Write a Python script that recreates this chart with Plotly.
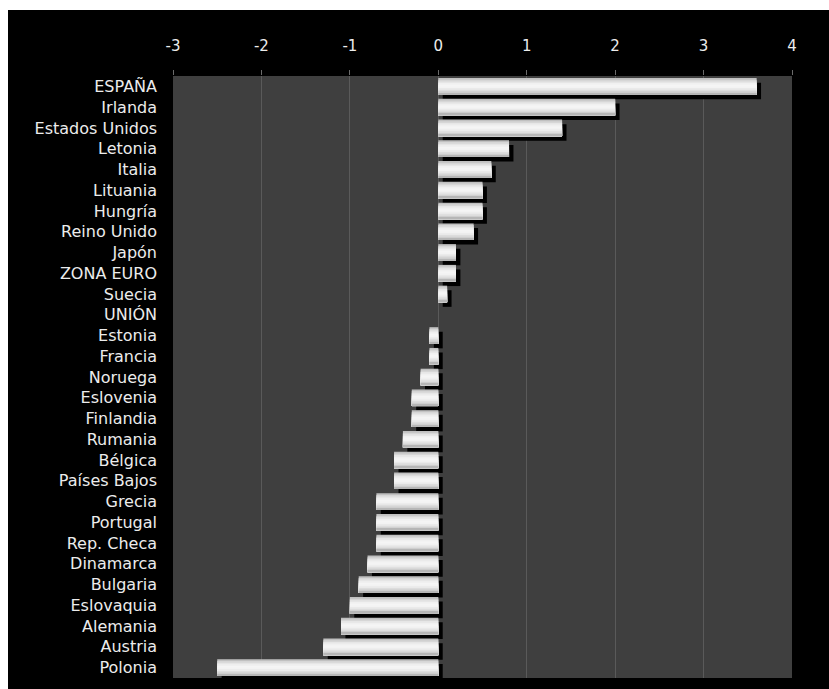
import plotly.graph_objects as go

# Countries, top to bottom, and their values
countries = [
    "ESPAÑA", "Irlanda", "Estados Unidos", "Letonia", "Italia", "Lituania",
    "Hungría", "Reino Unido", "Japón", "ZONA EURO", "Suecia", "UNIÓN",
    "Estonia", "Francia", "Noruega", "Eslovenia", "Finlandia", "Rumania",
    "Bélgica", "Países Bajos", "Grecia", "Portugal", "Rep. Checa",
    "Dinamarca", "Bulgaria", "Eslovaquia", "Alemania", "Austria", "Polonia",
]
values = [
    3.6, 2.0, 1.4, 0.8, 0.6, 0.5,
    0.5, 0.4, 0.2, 0.2, 0.1, 0.0,
    -0.1, -0.1, -0.2, -0.3, -0.3, -0.4,
    -0.5, -0.5, -0.7, -0.7, -0.7,
    -0.8, -0.9, -1.0, -1.1, -1.3, -2.5,
]
x_ticks = [-3, -2, -1, 0, 1, 2, 3, 4]

BAR_W = 0.80          # bar thickness in category units
SHADOW_DX = 0.05      # drop-shadow shift along the value axis
SHADOW_DY = 0.22      # drop-shadow shift along the category axis
# vertical shading of each bar, top to bottom
shade = ["#c0c0c0", "#d6d6d6", "#e6e6e6", "#f0f0f0", "#f5f5f5",
         "#f3f3f3", "#eaeaea", "#dddddd", "#cecece", "#b6b6b6"]

FONT = "DejaVu Sans"

fig = go.Figure()

# black drop shadow behind every bar
fig.add_trace(go.Bar(
    y=countries, x=values, base=SHADOW_DX, orientation="h",
    width=BAR_W, offset=-BAR_W / 2 + SHADOW_DY,
    marker=dict(color="#000000", line=dict(width=0)),
    hoverinfo="skip", showlegend=False,
))

# bar body built from stacked strips to give a soft vertical gradient
n = len(shade)
step = BAR_W / n
for i, col in enumerate(shade):
    fig.add_trace(go.Bar(
        y=countries, x=values, orientation="h",
        width=BAR_W - i * step, offset=-BAR_W / 2 + i * step,
        marker=dict(color=col, line=dict(width=0)),
        hoverinfo="skip", showlegend=False,
    ))

fig.update_layout(
    width=829, height=689,
    margin=dict(l=173, r=37, t=76, b=11),
    barmode="overlay",
    paper_bgcolor="#000000",
    plot_bgcolor="#3f3f3f",
    showlegend=False,
    font=dict(family=FONT, size=15, color="#ececec"),
    xaxis=dict(
        side="top", range=[-3, 4], tickvals=x_ticks,
        ticktext=[str(t) for t in x_ticks],
        showgrid=True, gridcolor="#5a5a5a", gridwidth=1,
        zeroline=True, zerolinecolor="#5a5a5a", zerolinewidth=1,
        ticks="outside", ticklen=5, tickcolor="#6a6a6a",
        ticklabelstandoff=13,
        tickfont=dict(family=FONT, size=15, color="#ececec"),
        showline=False, fixedrange=True,
    ),
    yaxis=dict(
        type="category", categoryorder="array", categoryarray=countries,
        range=[len(countries) - 0.5, -0.5],
        showgrid=False, zeroline=False, ticks="",
        ticklabelstandoff=15,
        tickfont=dict(family=FONT, size=16, color="#ececec"),
        showline=False, fixedrange=True,
    ),
    shapes=[
        # white page border along the top and left edges
        dict(type="rect", xref="paper", yref="paper", layer="above",
             x0=-173 / 619, x1=656 / 619, y0=668 / 602, y1=678 / 602,
             fillcolor="#ffffff", line=dict(width=0)),
        dict(type="rect", xref="paper", yref="paper", layer="above",
             x0=-173 / 619, x1=-165 / 619, y0=-11 / 602, y1=678 / 602,
             fillcolor="#ffffff", line=dict(width=0)),
    ],
)

fig.write_html("out.html")
